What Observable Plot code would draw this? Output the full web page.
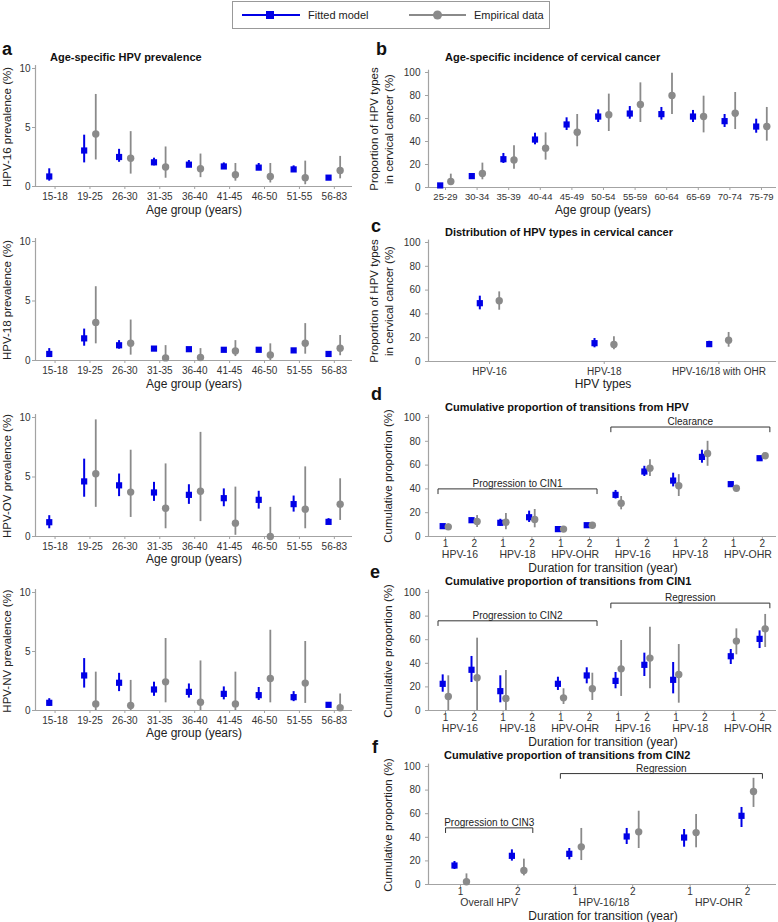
<!DOCTYPE html>
<html><head><meta charset="utf-8">
<script src="https://cdn.jsdelivr.net/npm/d3@7"></script>
<script src="https://cdn.jsdelivr.net/npm/@observablehq/plot@0.6"></script>
<style>
body{margin:0;background:#fff;}
#root{position:relative;width:778px;height:922px;overflow:hidden;background:#fff;font-family:"Liberation Sans",Arial,Helvetica,sans-serif;}
#overlay{position:absolute;left:0;top:0;pointer-events:none;}
</style></head><body><div id="root"></div>
<script>
// ---------------- DATA ----------------
// each entry: [estimate, lower, upper]; null = no value
const ageGroupsPrev = ["15-18","19-25","26-30","31-35","36-40","41-45","46-50","51-55","56-83"];
const hpv16Fitted = [[0.85,0.45,1.5],[3.05,2.0,4.35],[2.5,2.05,3.15],[2.05,1.75,2.4],[1.85,1.6,2.2],[1.7,1.45,2.0],[1.6,1.35,1.95],[1.45,1.2,1.75],[0.75,0.6,0.9]];
const hpv16Empirical = [null,[4.45,2.25,7.8],[2.4,1.05,4.65],[1.65,0.7,3.35],[1.5,0.75,2.75],[1.0,0.45,1.95],[0.85,0.3,1.95],[0.75,0.15,2.15],[1.35,0.65,2.55]];
const hpv18Fitted = [[0.55,0.25,1.0],[1.86,1.2,2.64],[1.28,0.95,1.67],[1.0,0.85,1.15],[0.95,0.85,1.05],[0.9,0.8,1.0],[0.9,0.8,1.0],[0.85,0.75,0.95],[0.55,0.45,0.65]];
const hpv18Empirical = [null,[3.2,1.4,6.2],[1.45,0.45,3.4],[0.22,0,1.25],[0.25,0,1.0],[0.8,0.33,1.67],[0.47,0,1.4],[1.45,0.53,3.1],[1.03,0.4,2.1]];
const hpvOVFitted = [[1.2,0.65,1.75],[4.63,3.3,6.5],[4.3,3.35,5.25],[3.7,2.95,4.55],[3.5,2.7,4.35],[3.22,2.5,4.0],[3.08,2.3,3.8],[2.72,2.05,3.4],[1.23,1.0,1.5]];
const hpvOVEmpirical = [null,[5.27,2.45,9.8],[3.73,1.6,7.25],[2.38,0.65,6.1],[3.8,1.25,8.75],[1.12,0.1,4.15],[0,0,2.45],[2.3,0.65,5.85],[2.72,1.35,4.85]];
const hpvNVFitted = [[0.65,0.35,1.0],[2.97,1.9,4.4],[2.35,1.6,3.15],[1.78,1.2,2.4],[1.58,1.05,2.25],[1.41,0.9,2.0],[1.3,0.85,1.95],[1.13,0.75,1.6],[0.48,0.35,0.6]];
const hpvNVEmpirical = [null,[0.56,0,3.25],[0.42,0,2.55],[2.43,0.65,6.1],[0.7,0,4.2],[0.56,0,3.25],[2.71,0.65,6.8],[2.32,0.6,5.85],[0.23,0,1.4]];

const ageGroupsCancer = ["25-29","30-34","35-39","40-44","45-49","50-54","55-59","60-64","65-69","70-74","75-79"];
const cancerFitted = [[1.8,0.6,3.2],[9.9,8.2,11.8],[24.6,20.9,29.6],[41.7,37.1,47.2],[54.8,49.6,60.6],[61.7,56.5,67.5],[64.3,59.4,70.4],[63.8,58.6,69.6],[61.7,56.5,67.0],[57.7,52.2,63.5],[53.0,47.2,59.4]];
const cancerEmpirical = [[5.2,2.0,11.6],[12.2,6.7,21.2],[24.0,15.9,36.2],[34.2,23.8,47.5],[48.1,35.4,63.5],[63.2,48.7,81.2],[72.2,56.5,91.0],[80.0,63.5,99.4],[61.7,47.5,79.4],[64.6,50.4,82.6],[53.0,40.3,69.6]];

const hpvTypes = ["HPV-16","HPV-18","HPV-16/18 with OHR"];
const typeFitted = [[49,43.4,54.9],[15.4,11.5,19.3],[14.6,12.3,17.0]];
const typeEmpirical = [[51,43.1,58.5],[14.3,9.8,20.7],[17.9,12.0,24.4]];

const durations = ["1","2"];
const transitionGroups = ["HPV-16","HPV-18","HPV-OHR","HPV-16","HPV-18","HPV-OHR"];
const fromHpvFitted = [[8.7,7.5,10],[13.7,11.8,15.7],[11.5,8.5,14.5],[16.2,11.8,21.3],[6.2,5.5,7],[9.5,8.7,10.3],[35,31.5,38.7],[54.6,50.4,59],[47,41.7,53.2],[66.9,61.6,72.5],[44,42.5,45.5],[65.8,65,67]];
const fromHpvEmpirical = [[8.1,6,10.5],[12.6,7.6,17.6],[12,5.6,19.3],[14.3,7.3,22.7],[6.2,5,7.2],[9.5,8.5,10.5],[28,22.4,33.6],[57.4,50.4,64.4],[42.6,33.6,52],[69.7,59,80],[40.6,38.5,42.5],[67.8,66.5,69.5]];
const fromCin1Fitted = [[22.6,15.5,30.2],[34.5,23.7,45.8],[16.4,6.5,29.4],null,[22.6,17,28.2],[29.7,22.6,36.2],[25.1,18.4,32.2],[38.7,28.8,48.6],[26,14.1,40.7],null,[46,39,51.7],[60.7,52.5,67.5]];
const fromCin1Empirical = [[11.9,0,29.4],[27.7,0,61.3],[10.2,0,33.9],null,[10.7,5.1,18.4],[18.4,8.5,31.6],[35.3,11.9,59.3],[44.4,18.4,70.6],[30.5,6.2,55.9],null,[58.8,47.2,69.2],[69.2,53.4,81.4]];
const cin2Groups = ["Overall HPV","HPV-16/18","HPV-OHR"];
const fromCin2Fitted = [[16.1,12.7,19.5],[24.3,19.8,29.4],[26,20.9,30.5],[40.7,33.9,47.5],[39.8,31.6,46.6],[58.2,48.3,65.3]];
const fromCin2Empirical = [[2.3,0,9],[11.9,7.3,21.5],[31.9,20.3,47.5],[44.6,30.5,62.1],[44,31.1,59.3],[78.8,65.3,90]];

const bracketsHpv = [{label:"Progression to CIN1", first:0, last:5, level:40},{label:"Clearance", first:6, last:11, level:92}];
const bracketsCin1 = [{label:"Progression to CIN2", first:0, last:5, level:76},{label:"Regression", first:6, last:11, level:91}];
const bracketsCin2 = [{label:"Progression to CIN3", first:0, last:1, level:48},{label:"Regression", first:2, last:5, level:94}];

const prevTicks = [0,5,10];
const pctTicks = [0,20,40,60,80,100];

// ---------------- STYLE ----------------
const FONT = '"Liberation Sans", Arial, Helvetica, sans-serif';
const BLUE = "#0000e6", GRAY = "#8a8a8a", AXIS = "#a3a3a3", TICKTEXT = "#333", INK = "#111";
const root = document.getElementById("root");

function toRows(arr){ return arr.map((d,i)=> d ? {i, v:d[0], lo:d[1], hi:d[2]} : null).filter(d=>d); }

function bracketMarks(brs){
  const pad = 0.26, drop = 4;
  const pts = brs.flatMap(b => [
    {x:b.first-pad, y:b.level-drop, k:b.label},{x:b.first-pad, y:b.level, k:b.label},
    {x:b.last+pad, y:b.level, k:b.label},{x:b.last+pad, y:b.level-drop, k:b.label}]);
  return [
    Plot.line(pts, {x:"x", y:"y", z:"k", stroke:"#333", strokeWidth:1}),
    Plot.text(brs, {x: b => (b.first+b.last)/2, y:"level", text:"label", lineAnchor:"bottom", dy:-2, fontSize:10, fill:"#222"})
  ];
}

function panel(o){
  const fit = toRows(o.fit), emp = toRows(o.emp);
  const plot = Plot.plot({
    width:o.width, height:o.height,
    marginLeft:o.mL, marginRight:o.mR, marginTop:8, marginBottom:o.height-8-o.plotH,
    x:{type:"linear", domain:o.xDomain},
    y:{type:"linear", domain:o.yDomain},
    style:{fontFamily:FONT, fontSize:"10px", color:TICKTEXT, background:"transparent", overflow:"visible"},
    marks:[
      Plot.ruleY([0], {stroke:AXIS, strokeWidth:1.2}),
      Plot.ruleX([o.xDomain[0]], {y1:0, y2:o.yLineTop, stroke:AXIS, strokeWidth:1.2}),
      Plot.axisX({ticks:o.xTicks, tickFormat:o.xFormat, tickSize:3, tickPadding:o.xPad ?? 2, stroke:AXIS, fill:TICKTEXT, fontSize:o.xFont, label:null}),
      Plot.axisY({ticks:o.yTicks, tickSize:3, tickPadding:o.yPad, stroke:AXIS, fill:TICKTEXT, fontSize:10, label:null}),
      Plot.ruleX(fit, {x:"i", y1:"lo", y2:"hi", stroke:BLUE, strokeWidth:2, dx:-o.off}),
      Plot.dot(fit, {x:"i", y:"v", symbol:"square", r:3.5, fill:BLUE, dx:-o.off}),
      Plot.ruleX(emp, {x:"i", y1:"lo", y2:"hi", stroke:GRAY, strokeWidth:1.8, dx:o.off}),
      Plot.dot(emp, {x:"i", y:"v", r:3.7, fill:GRAY, dx:o.off}),
      ...(o.extra || [])
    ]
  });
  plot.style.position = "absolute";
  plot.style.left = o.left + "px";
  plot.style.top = o.top + "px";
  root.appendChild(plot);
}

// ---------- left column (a) ----------
const prevSeries = [
  [hpv16Fitted, hpv16Empirical, 60, 118],
  [hpv18Fitted, hpv18Empirical, 233, 119],
  [hpvOVFitted, hpvOVEmpirical, 409, 119],
  [hpvNVFitted, hpvNVEmpirical, 584, 118]
];
const idxPrev = ageGroupsPrev.map((d,i)=>i);
for (const [fit, emp, top, plotH] of prevSeries) {
  panel({left:0, top, width:360, height:plotH+8+26, plotH, mL:35, mR:8,
    xDomain:[-0.56, 8.52], yDomain:[0,10], yLineTop:10.25,
    xTicks:idxPrev, xFormat:i=>ageGroupsPrev[i], xFont:10, xPad:3, yTicks:prevTicks, yPad:2,
    fit, emp, off:5.8});
}

// ---------- right column ----------
const R = {left:385, width:393, mL:43, mR:2};
panel({...R, top:64, plotH:115, height:115+8+26,
  xDomain:[-0.538, 10.475], yDomain:[0,100], yLineTop:102,
  xTicks:ageGroupsCancer.map((d,i)=>i), xFormat:i=>ageGroupsCancer[i], xFont:9.5, xPad:3, yTicks:pctTicks, yPad:5,
  fit:cancerFitted, emp:cancerEmpirical, off:5.3});

panel({...R, top:234, plotH:119, height:119+8+26,
  xDomain:[-0.532, 2.502], yDomain:[0,100], yLineTop:102,
  xTicks:[0,1,2], xFormat:i=>hpvTypes[i], xFont:10, xPad:3, yTicks:pctTicks, yPad:5,
  fit:typeFitted, emp:typeEmpirical, off:9.7});

function groupLabels(groups){
  return Plot.text(groups, {x:(d,i)=>i*2+0.5, text:d=>d, frameAnchor:"bottom", lineAnchor:"top", dy:14.5, fontSize:10.5, fill:TICKTEXT});
}
const idx12 = d3.range(12);
panel({...R, top:409, plotH:119, height:119+8+28,
  xDomain:[-0.59, 11.49], yDomain:[0,100], yLineTop:102,
  xTicks:idx12, xFormat:i=>durations[i%2], xFont:10, xPad:0, yTicks:pctTicks, yPad:5,
  fit:fromHpvFitted, emp:fromHpvEmpirical, off:2.8,
  extra:[groupLabels(transitionGroups), ...bracketMarks(bracketsHpv)]});

panel({...R, top:584, plotH:118, height:118+8+28,
  xDomain:[-0.59, 11.49], yDomain:[0,100], yLineTop:102,
  xTicks:idx12, xFormat:i=>durations[i%2], xFont:10, xPad:0, yTicks:pctTicks, yPad:5,
  fit:fromCin1Fitted, emp:fromCin1Empirical, off:2.8,
  extra:[groupLabels(transitionGroups), ...bracketMarks(bracketsCin1)]});

panel({...R, top:758, plotH:118, height:118+8+28,
  xDomain:[-0.557, 5.505], yDomain:[0,100], yLineTop:102,
  xTicks:d3.range(6), xFormat:i=>durations[i%2], xFont:10, xPad:0, yTicks:pctTicks, yPad:5,
  fit:fromCin2Fitted, emp:fromCin2Empirical, off:6,
  extra:[groupLabels(cin2Groups), ...bracketMarks(bracketsCin2)]});

// ---------------- TEXT OVERLAY ----------------
const ns = "http://www.w3.org/2000/svg";
const ov = document.createElementNS(ns, "svg");
ov.setAttribute("id","overlay"); ov.setAttribute("width",778); ov.setAttribute("height",922);
ov.style.fontFamily = FONT;
root.appendChild(ov);
function el(tag, attrs){ const e=document.createElementNS(ns,tag); for(const k in attrs) e.setAttribute(k, attrs[k]); ov.appendChild(e); return e; }
function txt(s, x, y, o={}){
  const t = el("text", {x, y, "font-size":o.size||12, "font-weight":o.weight||"normal", "text-anchor":o.anchor||"start", fill:o.fill||INK});
  if (o.rotate) t.setAttribute("transform", `rotate(-90 ${x} ${y})`);
  t.textContent = s; return t;
}

// legend
el("rect", {x:232.5, y:1.5, width:317, height:27, fill:"#fff", stroke:"#999", "stroke-width":1});
el("line", {x1:242, x2:300, y1:15, y2:15, stroke:BLUE, "stroke-width":2});
el("rect", {x:266, y:11, width:8, height:8, fill:BLUE});
txt("Fitted model", 308, 19, {size:11, fill:"#222"});
el("line", {x1:409, x2:466, y1:15, y2:15, stroke:GRAY, "stroke-width":2});
el("circle", {cx:437.5, cy:15, r:4.5, fill:GRAY});
txt("Empirical data", 474, 19, {size:11, fill:"#222"});

// panel letters
[["a",2,55],["b",376,55],["c",371,232],["d",371,400],["e",370,578],["f",372,753]]
  .forEach(([s,x,y])=>txt(s,x,y,{size:18, weight:"bold"}));

// panel titles
[["Age-specific HPV prevalence",50,61],["Age-specific incidence of cervical cancer",445,61],
 ["Distribution of HPV types in cervical cancer",445,235.5],["Cumulative proportion of transitions from HPV",445,411],
 ["Cumulative proportion of transitions from CIN1",445,585],["Cumulative proportion of transitions from CIN2",444,759]]
  .forEach(([s,x,y])=>txt(s,x,y,{size:11, weight:"bold"}));

// axis titles (x)
[["Age group (years)",194,214],["Age group (years)",194,388],["Age group (years)",194,563],["Age group (years)",194,737],
 ["Age group (years)",603,214],["HPV types",603,388],["Duration for transition (year)",603,571.5],
 ["Duration for transition (year)",603,745.5],["Duration for transition (year)",603,919.5]]
  .forEach(([s,x,y])=>txt(s,x,y,{size:12, anchor:"middle", fill:"#222"}));

// axis titles (y, rotated)
[["HPV-16 prevalence (%)",10.5,127],["HPV-18 prevalence (%)",10.5,300],["HPV-OV prevalence (%)",10.5,476],["HPV-NV prevalence (%)",10.5,651],
 ["Proportion of HPV types",378,129],["in cervical cancer (%)",393,129],
 ["Proportion of HPV types",378,301],["in cervical cancer (%)",393,301],
 ["Cumulative proportion (%)",392,476],["Cumulative proportion (%)",392,651],["Cumulative proportion (%)",392,825]]
  .forEach(([s,x,y])=>txt(s,x,y,{size:11.5, anchor:"middle", rotate:true, fill:"#222"}));
</script></body></html>
